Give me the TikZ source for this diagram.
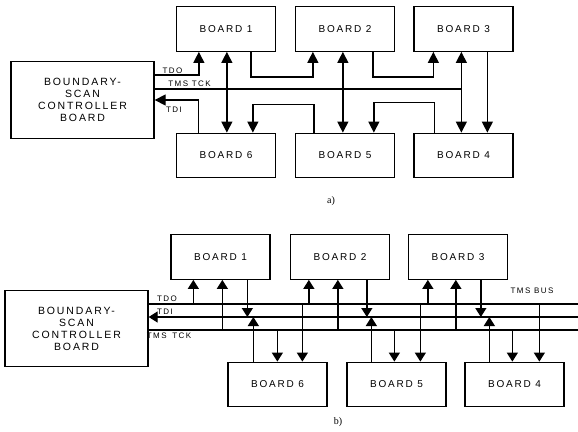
\documentclass[tikz,border=0pt]{standalone}
\usepackage{fontspec}
\setmainfont{Liberation Serif}
\newfontfamily\boardfont{Liberation Sans}[LetterSpace=18]
\usetikzlibrary{calc,arrows.meta,positioning}

\begin{document}
\begin{tikzpicture}[x=1pt, y=-1pt, >={Triangle[length=11pt,width=11pt]},
  board/.style={draw, line width=1.3pt, minimum width=99pt, minimum height=44.5pt,
                inner sep=0pt, font=\boardfont\fontsize{10}{12}\selectfont},
  ctrl/.style={board, minimum width=143pt, minimum height=76.5pt, align=center,
               font=\boardfont\fontsize{10.5}{12}\selectfont},
  sig/.style={line width=1.3pt},
  tag/.style={inner sep=0pt, font=\boardfont\fontsize{8}{9}\selectfont}]
  \useasboundingbox (0,0) rectangle (578,431);
  % a) point to point
  \node[ctrl] (ctlA) at (82.5,100) {BOUNDARY-\\SCAN\\CONTROLLER\\BOARD};
  \node[board] (a1) at (226,29)    {BOARD 1};
  \node[board] (a2) at (345,29)    {BOARD 2};
  \node[board] (a3) at (463.5,29)  {BOARD 3};
  \node[board] (a6) at (226,155.5) {BOARD 6};
  \node[board] (a5) at (345,155.5) {BOARD 5};
  \node[board] (a4) at (463.5,155.5) {BOARD 4};
  \draw[sig,<->] ($(a1.south west)+(51,0)$) coordinate (a1m) -- (a1m |- a6.north);
  \draw[sig,<->] ($(a2.south west)+(48,0)$) coordinate (a2m) -- (a2m |- a5.north);
  \draw[sig,<->] ($(a3.south west)+(48,0)$) coordinate (a3m) -- (a3m |- a4.north);
  \draw[sig,->] ($(ctlA.north east)+(0,14)$) -| ($(a1.south west)+(23,0)$);
  \draw[sig] ($(ctlA.east)+(0,-11)$) coordinate (p) -- (p -| a3m);
  \draw[sig,->] ($(a6.north west)+(22.5,0)$) |- (ctlA.east);
  \draw[sig,->] ($(a1.south west)+(75,0)$) -- ++(0,25) -| ($(a2.south west)+(18,0)$);
  \draw[sig,->] ($(a2.south west)+(78,0)$) -- ++(0,25) -| ($(a3.south west)+(20,0)$);
  \draw[sig,->] ($(a3.south west)+(74,0)$) coordinate (p) -- (p |- a4.north);
  \draw[sig,->] ($(a4.north west)+(21,0)$) -- ++(0,-30) -| ($(a5.north west)+(79,0)$);
  \draw[sig,->] ($(a5.north west)+(19,0)$) -- ++(0,-28) -| ($(a6.north west)+(77,0)$);
  \node[tag] (tdoA) at (172.5,71) {TDO};
  \node[tag] (tmsA) at (189.5,84) {TMS TCK};
  \node[tag] (tdiA) at (174,109.5) {TDI};
  \node (capA) at (331,201) {a)};
  % b) bus
  \begin{scope}[>={Triangle[length=9pt,width=11pt]}]
  \node[ctrl] (ctlB) at (76.5,328.5) {BOUNDARY-\\SCAN\\CONTROLLER\\BOARD};
  \node[board] (b1) at (220.5,257)   {BOARD 1};
  \node[board] (b2) at (340,257)     {BOARD 2};
  \node[board] (b3) at (458,257)     {BOARD 3};
  \node[board] (b6) at (277.5,384.5) {BOARD 6};
  \node[board] (b5) at (396.5,384.5) {BOARD 5};
  \node[board] (b4) at (514.5,384.5) {BOARD 4};
  \coordinate (tdo) at (578,304);
  \coordinate (tdi) at (578,317);
  \coordinate (tms) at (578,330);
  \draw[sig] (ctlB.east |- tdo) -- (tdo);
  \draw[sig,->] (tdi) -- (ctlB.east |- tdi);
  \draw[sig] (ctlB.east |- tms) -- (tms);
  % board 1 and 6
  \draw[sig,<-] ($(b1.south west)+(23,0)$) coordinate (p) -- (p |- tdo);
  \draw[sig,<-] ($(b1.south west)+(52,0)$) coordinate (p) -- (p |- tms);
  \draw[sig,->] ($(b1.south west)+(77,0)$) coordinate (p) -- (p |- tdi);
  \draw[sig,->] ($(b6.north west)+(26,0)$) coordinate (p) -- (p |- tdi);
  \draw[sig,<-] ($(b6.north west)+(50,0)$) coordinate (p) -- (p |- tms);
  \draw[sig,<-] ($(b6.north west)+(75,0)$) coordinate (p) -- (p |- tdo);
  % board 2 and 5
  \draw[sig,<-] ($(b2.south west)+(19,0)$) coordinate (p) -- (p |- tdo);
  \draw[sig,<-] ($(b2.south west)+(48,0)$) coordinate (p) -- (p |- tms);
  \draw[sig,->] ($(b2.south west)+(77,0)$) coordinate (p) -- (p |- tdi);
  \draw[sig,->] ($(b5.north west)+(25,0)$) coordinate (p) -- (p |- tdi);
  \draw[sig,<-] ($(b5.north west)+(48,0)$) coordinate (p) -- (p |- tms);
  \draw[sig,<-] ($(b5.north west)+(74,0)$) coordinate (p) -- (p |- tdo);
  % board 3 and 4
  \draw[sig,<-] ($(b3.south west)+(20,0)$) coordinate (p) -- (p |- tdo);
  \draw[sig,<-] ($(b3.south west)+(48,0)$) coordinate (p) -- (p |- tms);
  \draw[sig,->] ($(b3.south west)+(73,0)$) coordinate (p) -- (p |- tdi);
  \draw[sig,->] ($(b4.north west)+(25,0)$) coordinate (p) -- (p |- tdi);
  \draw[sig,<-] ($(b4.north west)+(48,0)$) coordinate (p) -- (p |- tms);
  \draw[sig,<-] ($(b4.north west)+(75,0)$) coordinate (p) -- (p |- tdo);
  \node[tag] (tdoB) at (167,299)   {TDO};
  \node[tag] (tdiB) at (165,311.5) {TDI};
  \node[tag] (tmsB) at (169,336)   {TMS\hspace{2pt} TCK};
  \node[tag] (busB) at (532,291)   {TMS BUS};
  \node (capB) at (338,422) {b)};
  \end{scope}
\end{tikzpicture}
\end{document}
